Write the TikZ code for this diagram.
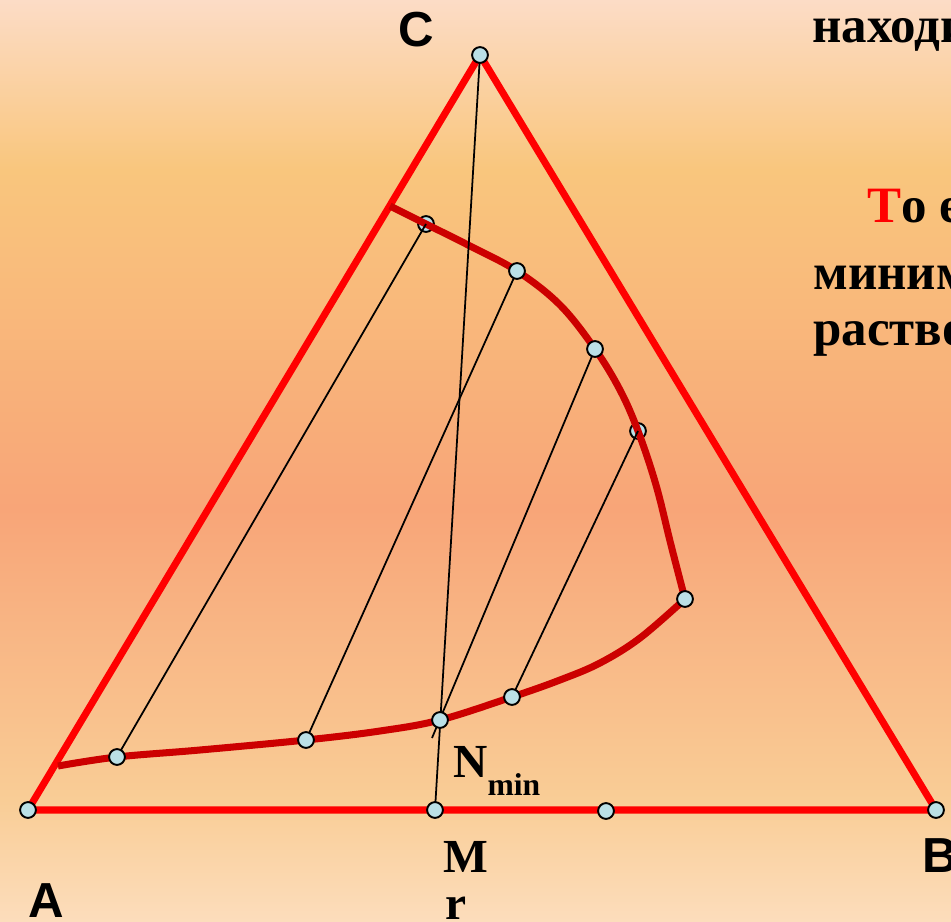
\documentclass[tikz,border=0pt]{standalone}
\usepackage{fontspec}
\setmainfont{Liberation Serif}
\newfontfamily\labelsans{Liberation Sans}

\definecolor{bgtop}{RGB}{252,220,198}
\definecolor{bgamber}{RGB}{249,198,125}
\definecolor{bgsalmon}{RGB}{248,165,120}
\definecolor{bglow}{RGB}{249,205,150}
\definecolor{bgbot}{RGB}{252,221,188}
\pgfdeclareverticalshading{slidebg}{100bp}{color(0bp)=(bgbot); color(25bp)=(bgbot);
  color(31.6bp)=(bglow); color(47.4bp)=(bgsalmon); color(65.8bp)=(bgamber);
  color(75bp)=(bgtop); color(100bp)=(bgtop)}

\begin{document}
\begin{tikzpicture}[
  x=0.02cm, y=0.02cm,
  sideline/.style={draw=trired,line width=4pt,line join=round},
  binodal/.style={draw=bindred,line width=4pt,line cap=butt},
  tieline/.style={draw=black,line width=1pt},
  dot/.style={circle,fill=dotblue,draw=black,line width=1.1pt,inner sep=0pt,minimum size=9pt},
  vertexlabel/.style={font=\labelsans\bfseries\fontsize{28}{30}\selectfont,inner sep=0pt,anchor=base west},
  pointlabel/.style={font=\bfseries\fontsize{27}{29}\selectfont,inner sep=0pt,anchor=base west},
  slidetext/.style={font=\bfseries\fontsize{29}{31}\selectfont,inner sep=0pt,anchor=base west}
]
\definecolor{trired}{RGB}{255,0,0}
\definecolor{bindred}{RGB}{204,0,0}
\definecolor{dotblue}{RGB}{187,224,230}

% Slide background, cut to the visible part.
\clip (0,0) rectangle (951,-922);
\shade[shading=slidebg] (0,0) rectangle (951,-922);

% Corners of the triangle and points on its sides.
\coordinate (pA) at (28,-810);
\coordinate (pB) at (936,-810);
\coordinate (pC) at (480,-55);
\coordinate (pM) at (435,-810);
\coordinate (pQ) at (606,-811);

% Points on the solubility curve.
\coordinate (t1) at (426,-224);
\coordinate (t2) at (517,-271);
\coordinate (t3) at (595,-349);
\coordinate (t4) at (638,-431);
\coordinate (pK) at (685,-599);
\coordinate (b4) at (512,-697);
\coordinate (pN) at (440,-720);
\coordinate (b2) at (306,-740);
\coordinate (b1) at (117,-757);
\coordinate (tail) at (432,-738);

% Triangle ABC.
\draw[sideline] (pA) -- (pB) -- (pC) -- cycle;

\node[dot] (d1) at (t1) {};
\node[dot] (d4) at (t4) {};

% Two branches of the curve meeting at K.
\draw[binodal] plot[smooth,tension=0.6] coordinates {(390,-206) (t1) (470,-246) (t2)
  (560,-305) (t3) (620,-390) (t4) (656,-485) (671,-545) (pK)};
\draw[binodal] plot[smooth,tension=0.6] coordinates {(pK) (640,-638) (600,-663)
  (560,-680) (b4) (pN) (380,-731) (b2) (200,-750) (b1) (58,-766)};

% Tie lines and the line C--M through N.
\draw[tieline] (b1) -- (t1);
\draw[tieline] (b2) -- (t2);
\draw[tieline] (tail) -- (t3);
\draw[tieline] (b4) -- (t4);
\draw[tieline] (pC) -- (pM);

\node[dot] (dA) at (pA) {};
\node[dot] (dB) at (pB) {};
\node[dot] (dC) at (pC) {};
\node[dot] (dM) at (pM) {};
\node[dot] (dQ) at (pQ) {};
\node[dot] (d2) at (t2) {};
\node[dot] (d3) at (t3) {};
\node[dot] (dK) at (pK) {};
\node[dot] (dN) at (pN) {};
\node[dot] (db1) at (b1) {};
\node[dot] (db2) at (b2) {};
\node[dot] (db4) at (b4) {};

% Labels.
\node[vertexlabel] (labC) at (398,-47) {C};
\node[vertexlabel] (labA) at (28,-917) {A};
\node[vertexlabel] (labB) at (922,-872) {B};
\node[pointlabel] (labM) at (443,-872) {M};
\node[pointlabel] (labr) at (445,-919) {r};
\node[pointlabel] (labN) at (453,-777)
  {N\raisebox{-0.38em}{\fontsize{18}{18}\selectfont min}};

% Slide text running off the right edge.
\node[slidetext] (txt1) at (812,-43) {находи};
\node[slidetext] (txt2) at (867,-223) {\textcolor{trired}{Т}о е};
\node[slidetext] (txt3) at (813,-290) {миним};
\node[slidetext] (txt4) at (813,-346) {раство};
\end{tikzpicture}
\end{document}
